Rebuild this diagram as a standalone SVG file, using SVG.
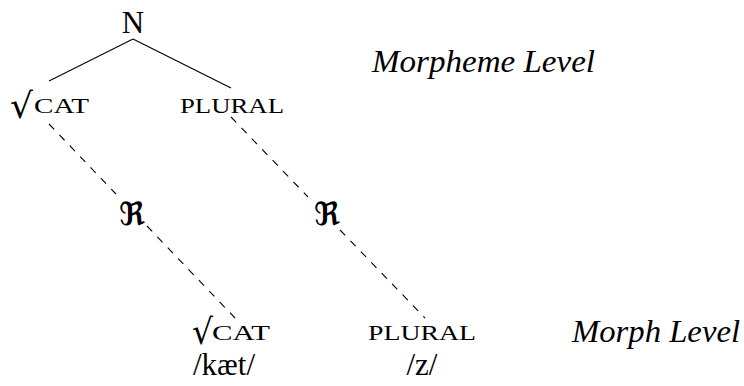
<svg xmlns="http://www.w3.org/2000/svg" width="744" height="386" viewBox="0 0 744 386">
  <style>
    .t { font-family: "Liberation Serif", serif; fill: #000; }
    .big { font-size: 31px; }
    .root { font-family: "DejaVu Serif", serif; font-size: 35px; fill: #000; }
    .sc { font-size: 22px; }
    .it { font-size: 31px; font-style: italic; }
    .frak { font-family: "DejaVu Serif", "DejaVu Sans", serif; font-size: 32px; font-weight: bold; fill: #000; }
    .edge { stroke: #000; stroke-width: 1.1; fill: none; }
    .dash { stroke: #000; stroke-width: 1.1; fill: none; stroke-dasharray: 7.5 7.5; }
  </style>

  <!-- tree edges and realization links -->
  <g id="connectors">
    <line class="edge" x1="133" y1="39" x2="49" y2="81"/>
    <line class="edge" x1="133" y1="39" x2="231" y2="88"/>
    <line class="dash" x1="49" y1="124" x2="116" y2="194"/>
    <line class="dash" x1="147" y1="226" x2="235" y2="318"/>
    <line class="dash" x1="231" y1="117" x2="308" y2="197"/>
    <line class="dash" x1="340" y1="230" x2="425" y2="318"/>
  </g>

  <g id="node-N">
    <text class="t big" x="133" y="33" text-anchor="middle">N</text>
  </g>

  <g id="node-cat-morpheme">
    <text class="root" x="10" y="118" textLength="23" lengthAdjust="spacingAndGlyphs">√</text>
    <text class="t sc" x="34" y="113" textLength="55" lengthAdjust="spacingAndGlyphs">CAT</text>
  </g>

  <g id="node-plural-morpheme">
    <text class="t sc" x="180" y="113" textLength="104" lengthAdjust="spacingAndGlyphs">PLURAL</text>
  </g>

  <g id="node-R-left">
    <text class="frak" x="132" y="225" text-anchor="middle">ℜ</text>
  </g>

  <g id="node-R-right">
    <text class="frak" x="327" y="225" text-anchor="middle">ℜ</text>
  </g>

  <g id="node-cat-morph">
    <text class="root" x="192" y="344" textLength="21" lengthAdjust="spacingAndGlyphs">√</text>
    <text class="t sc" x="212" y="340" textLength="58" lengthAdjust="spacingAndGlyphs">CAT</text>
    <text class="t big" x="193" y="375">/kæt/</text>
  </g>

  <g id="node-plural-morph">
    <text class="t sc" x="368" y="340" textLength="108" lengthAdjust="spacingAndGlyphs">PLURAL</text>
    <text class="t big" x="422" y="375" text-anchor="middle">/z/</text>
  </g>

  <g id="label-morpheme-level">
    <text class="t it" x="372" y="72" textLength="223" lengthAdjust="spacingAndGlyphs">Morpheme Level</text>
  </g>

  <g id="label-morph-level">
    <text class="t it" x="572" y="342" textLength="168" lengthAdjust="spacingAndGlyphs">Morph Level</text>
  </g>
</svg>
